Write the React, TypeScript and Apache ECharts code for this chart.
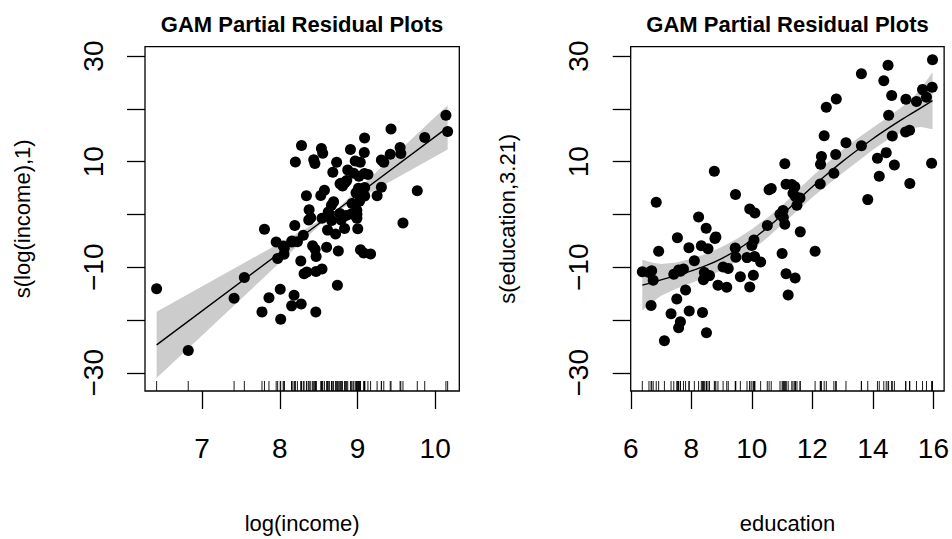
import { useEffect, useRef } from "react";
import * as echarts from "echarts";

// ---------- data ----------
const logIncome = [
  9.422, 10.161, 9.135, 9.09, 9.036, 9.308, 9.019, 9.558, 9.339, 9.308,
  8.683, 8.862, 9.039, 8.993, 8.91, 8.754, 9.866, 8.718, 9.169, 8.452,
  9.432, 8.639, 8.992, 10.139, 9.586, 9.77, 8.437, 8.156, 8.536, 9.253,
  8.553, 8.732, 8.931, 9.013, 8.303, 8.055, 8.378, 7.803, 8.373, 8.468,
  8.012, 7.973, 8.615, 8.227, 8.059, 8.464, 8.528, 8.742, 8.313, 8.92,
  9.08, 7.861, 6.822, 7.771, 9.004, 8.853, 8.982, 9.093, 9.093, 8.044,
  8.276, 8.971, 6.415, 8.006, 8.153, 8.184, 8.201, 7.412, 8.834, 8.343,
  8.544, 8.544, 7.544, 8.399, 8.156, 8.993, 8.808, 8.79, 8.776, 8.668,
  8.791, 8.28, 8.603, 7.954, 8.665, 8.951, 8.455, 9.026, 8.875, 9.092,
  8.575, 8.693, 8.423, 8.843, 8.271, 9.549, 9.088, 8.624, 8.349, 8.467,
  8.774, 8.193,
];

const education = [
  13.11, 12.26, 12.77, 11.42, 14.62, 15.64, 15.09, 15.44, 14.52, 14.64,
  12.39, 12.3, 13.83, 14.44, 14.36, 14.21, 15.77, 14.15, 15.22, 14.5,
  15.97, 13.62, 15.08, 15.96, 15.94, 14.71, 12.46, 9.45, 13.62, 15.21,
  12.79, 11.09, 12.71, 11.44, 11.59, 11.49, 11.32, 10.64, 11.36, 9.17,
  12.09, 11.04, 9.22, 10.07, 10.51, 11.2, 11.13, 11.43, 11.0, 9.84,
  11.13, 10.05, 9.62, 9.93, 11.6, 11.09, 11.03, 9.47, 10.93, 7.74,
  8.5, 10.57, 9.46, 7.33, 7.11, 7.58, 6.84, 8.6, 8.88, 7.54,
  7.64, 7.64, 7.42, 6.69, 6.74, 10.09, 8.81, 8.4, 7.92, 8.43,
  8.78, 8.76, 10.29, 6.38, 8.1, 10.1, 6.67, 9.05, 9.93, 8.24,
  6.92, 6.6, 7.81, 8.33, 7.52, 12.27, 8.49, 7.58, 7.93, 8.37,
  10.0, 8.55,
];

// partial residuals for s(log(income),1)
const residIncome = [
  11.4, 15.72, 7.57, 7.74, 9.91, 10.33, 7.25, 11.53, 9.89, 5.14,
  8.0, 6.43, -6.7, -0.7, 12.3, -6.93, 14.57, -3.7, -7.5, 9.67,
  16.17, 0.0, 0.79, 18.81, -1.62, 4.47, 10.36, -5.04, 12.5, 3.53,
  11.58, 9.89, 2.06, 4.94, -3.96, -7.53, 0.87, -2.8, -1.04, -7.98,
  -19.86, -8.34, -2.97, -5.17, -6.38, -18.49, 3.58, -13.41, -11.23, 0.08,
  -7.32, -15.77, -25.79, -18.46, -2.71, -0.21, 4.11, 3.48, 5.11, -5.99,
  -16.98, 10.13, -14.08, -14.19, -17.32, -15.32, 9.93, -15.89, -2.68, 3.55,
  -10.32, -0.72, -11.94, -0.63, -5.21, 0.04, 5.37, -1.07, 5.81, -1.13,
  5.93, 13.07, -6.22, -5.23, 1.76, 7.79, -6.6, 2.48, 8.44, 14.47,
  4.6, 2.42, -5.91, 6.08, -8.81, 12.67, 11.74, 0.48, -10.91, -10.81,
  0.17, -2.08,
];

// partial residuals for s(education,3.21)
const residEducation = [
  13.6, 5.77, 11.36, 5.25, 22.54, 23.65, 21.83, 21.4, 18.81, 14.85,
  14.93, 10.96, 2.81, 11.71, 25.33, 7.25, 22.22, 10.64, 5.88, 28.26,
  29.29, 13.01, 15.63, 24.11, 9.7, 9.37, 20.33, -6.38, 26.65, 15.96,
  21.86, 9.59, 7.8, 3.4, 3.11, 1.74, 5.69, 4.91, 4.03, -13.81,
  -6.99, -0.56, -10.22, -4.85, -2.11, -15.27, 5.74, -12.02, -7.4, -8.18,
  -11.24, -11.53, -11.8, -13.74, -3.3, -1.84, 0.74, -8.09, 0.02, -10.35,
  -22.4, 4.66, 3.77, -18.83, -23.94, -21.48, 2.33, -11.59, -13.43, -4.43,
  -20.34, -10.74, -11.35, -10.65, -12.48, -7.98, -4.25, -12.35, -6.3, -11.0,
  -4.56, 8.17, -9.0, -10.86, -8.77, 0.28, -17.26, -9.95, 1.02, -0.47,
  -6.99, -10.98, -14.31, -5.94, -16.04, 9.5, -2.62, -10.52, -18.3, -18.59,
  -5.87, -6.49,
];

// fitted smooth and 2-se band, log(income)
const incomeFitX = [6.415, 8.661, 10.161];
const incomeFit = [-24.71, 0, 16.5];
const incomeUpper = [-18.42, 0, 20.7];
const incomeLower = [-31.0, 0, 12.3];

// fitted smooth and 2-se band, education
const eduFitX = [6.38, 6.7, 7.0, 7.5, 8.0, 8.5, 9.0, 9.5, 10.0, 10.5, 11.0, 11.5, 12.0, 12.5, 13.0, 13.5, 14.0, 14.5, 15.0, 15.3, 15.6, 15.97];
const eduFit = [-13.4, -12.9, -12.4, -11.6, -10.7, -9.65, -8.35, -6.75, -4.8, -2.55, -0.1, 2.6, 5.25, 7.7, 10.05, 12.25, 14.35, 16.3, 18.15, 19.2, 20.25, 21.55];
const eduUpper = [-8.6, -9.1, -9.4, -9.1, -8.4, -7.45, -6.15, -4.65, -2.8, -0.65, 1.7, 4.5, 7.25, 9.8, 12.25, 14.45, 16.45, 18.4, 20.55, 22.0, 23.95, 26.95];
const eduLower = [-18.2, -16.7, -15.4, -14.1, -13.0, -11.85, -10.55, -8.85, -6.8, -4.45, -1.9, 0.7, 3.25, 5.6, 7.85, 10.05, 12.25, 14.2, 15.75, 16.4, 16.55, 16.15];

// axes
const incomeTicks = [7, 8, 9, 10];
const eduTicks = [6, 8, 10, 12, 14, 16];
const yTicks = [-30, -20, -10, 0, 10, 20, 30];
const yTickLabels = [-30, -10, 10, 30];
const Y_MIN = -33.45;
const Y_MAX = 31.8;
const INCOME_MIN = 6.2654;
const INCOME_MAX = 10.311;
const EDU_MIN = 5.9964;
const EDU_MAX = 16.3536;

const panelTitle = "GAM Partial Residual Plots";
const xNames = ["log(income)", "education"];
const yNames = ["s(log(income),1)", "s(education,3.21)"];

// ---------- chart ----------
const FONT = "'Liberation Sans', Arial, Helvetica, sans-serif";
const fmt = (v: number) => String(v).replace("-", "\u2212");

function xAxisCfg(gridIndex: number, min: number, max: number, ticks: number[], name: string) {
  return {
    type: "value",
    gridIndex,
    min,
    max,
    axisLine: { show: false, onZero: false },
    splitLine: { show: false },
    axisTick: { show: true, length: 18, lineStyle: { color: "#000", width: 1.3 }, customValues: ticks },
    axisLabel: {
      show: true,
      customValues: ticks,
      fontSize: 28,
      color: "#000",
      fontFamily: FONT,
      margin: 43,
      formatter: fmt,
    },
    name,
    nameLocation: "middle",
    nameGap: 121,
    nameTextStyle: { fontSize: 22, color: "#000", fontFamily: FONT },
  };
}

function yAxisCfg(gridIndex: number, name: string) {
  return {
    type: "value",
    gridIndex,
    min: Y_MIN,
    max: Y_MAX,
    axisLine: { show: false, onZero: false },
    splitLine: { show: false },
    axisTick: { show: true, length: 18, lineStyle: { color: "#000", width: 1.3 }, customValues: yTicks },
    axisLabel: {
      show: true,
      customValues: yTickLabels,
      rotate: 90,
      fontSize: 28,
      color: "#000",
      fontFamily: FONT,
      margin: 38,
      formatter: fmt,
    },
    name,
    nameLocation: "middle",
    nameRotate: 90,
    nameGap: 112,
    nameTextStyle: { fontSize: 22, color: "#000", fontFamily: FONT },
  };
}

function bandSeries(idx: number, xs: number[], up: number[], lo: number[]) {
  return {
    type: "custom",
    xAxisIndex: idx,
    yAxisIndex: idx,
    silent: true,
    z: 1,
    data: [[xs[0], up[0]]],
    renderItem: (_p: any, api: any) => {
      const pts: number[][] = [];
      for (let i = 0; i < xs.length; i++) pts.push(api.coord([xs[i], up[i]]));
      for (let i = xs.length - 1; i >= 0; i--) pts.push(api.coord([xs[i], lo[i]]));
      return { type: "polygon", shape: { points: pts }, style: { fill: "#cccccc", stroke: "none" } };
    },
  };
}

function rugSeries(idx: number, xs: number[]) {
  return {
    type: "custom",
    xAxisIndex: idx,
    yAxisIndex: idx,
    silent: true,
    z: 2,
    data: xs.map((v) => [v, Y_MIN]),
    renderItem: (_p: any, api: any) => {
      const p = api.coord([api.value(0), Y_MIN]);
      return {
        type: "line",
        shape: { x1: p[0], y1: p[1], x2: p[0], y2: p[1] - 10 },
        style: { stroke: "#000", lineWidth: 0.9 },
      };
    },
  };
}

function fitSeries(idx: number, xs: number[], ys: number[], smooth: number) {
  return {
    type: "line",
    xAxisIndex: idx,
    yAxisIndex: idx,
    silent: true,
    z: 3,
    smooth,
    showSymbol: false,
    symbol: "none",
    lineStyle: { color: "#000", width: 1.4, opacity: 1 },
    data: xs.map((x, i) => [x, ys[i]]),
  };
}

function pointSeries(idx: number, xs: number[], ys: number[]) {
  return {
    type: "scatter",
    xAxisIndex: idx,
    yAxisIndex: idx,
    silent: true,
    z: 4,
    symbol: "circle",
    symbolSize: 11,
    itemStyle: { color: "#000", opacity: 1 },
    data: xs.map((x, i) => [x, ys[i]]),
  };
}

const gridBase = { top: 46.6, height: 349.4, show: true, borderColor: "#000", borderWidth: 1.3, backgroundColor: "transparent" };

const titleStyle = { fill: "#000", fontSize: 22, fontWeight: "bold", fontFamily: FONT, align: "center", verticalAlign: "middle" };

const option = {
  animation: false,
  backgroundColor: "#ffffff",
  textStyle: { fontFamily: FONT },
  grid: [
    { ...gridBase, left: 145, width: 314.3 },
    { ...gridBase, left: 630.7, width: 313.6 },
  ],
  xAxis: [
    xAxisCfg(0, INCOME_MIN, INCOME_MAX, incomeTicks, xNames[0]),
    xAxisCfg(1, EDU_MIN, EDU_MAX, eduTicks, xNames[1]),
  ],
  yAxis: [yAxisCfg(0, yNames[0]), yAxisCfg(1, yNames[1])],
  graphic: [
    { type: "text", x: 302, y: 24, style: { ...titleStyle, text: panelTitle } },
    { type: "text", x: 787.5, y: 24, style: { ...titleStyle, text: panelTitle } },
  ],
  series: [
    bandSeries(0, incomeFitX, incomeUpper, incomeLower),
    rugSeries(0, logIncome),
    fitSeries(0, incomeFitX, incomeFit, 0),
    pointSeries(0, logIncome, residIncome),
    bandSeries(1, eduFitX, eduUpper, eduLower),
    rugSeries(1, education),
    fitSeries(1, eduFitX, eduFit, 0.35),
    pointSeries(1, education, residEducation),
  ],
};

export default function App() {
  const ref = useRef<HTMLDivElement>(null);
  useEffect(() => {
    if (!ref.current) return;
    const chart = echarts.init(ref.current, null, { renderer: "svg" });
    chart.setOption(option as any);
    return () => chart.dispose();
  }, []);
  return (
    <div
      ref={ref}
      style={{ position: "fixed", left: 0, top: 0, width: 952, height: 539, background: "#fff" }}
    />
  );
}
